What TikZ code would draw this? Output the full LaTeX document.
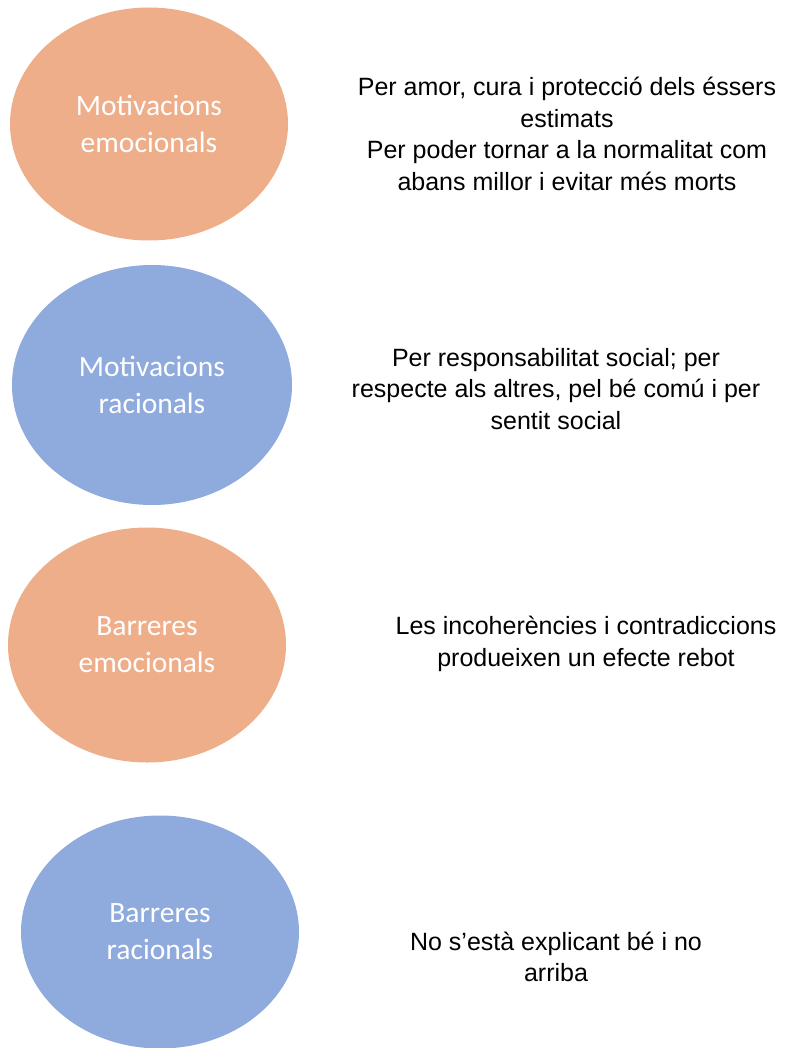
\documentclass[tikz,border=0pt]{standalone}
\usepackage{fontspec}
\setmainfont{Liberation Sans}
\newfontfamily\calibrifont{Carlito}
\usetikzlibrary{shapes.geometric}

\definecolor{emocolor}{HTML}{EEAE8A}
\definecolor{raccolor}{HTML}{8FAADC}

\begin{document}
\begin{tikzpicture}[x=1pt, y=-1pt,
    bubble/.style = {ellipse, inner sep=0pt, minimum width=278pt, minimum height=233pt,
      text=white, align=center, font=\calibrifont\fontsize{29.5}{37}\selectfont},
    emo/.style = {bubble, fill=emocolor},
    rac/.style = {bubble, fill=raccolor},
    note/.style = {align=center, font=\fontsize{25}{31.5}\selectfont}]
    \useasboundingbox (0,0) rectangle (784,1048);
    % ellipses on the left
    \node [emo] (motemo) at (149,124) {Motivacions\\emocionals};
    \node [rac, minimum width=280pt, minimum height=240pt] (motrac) at (152,385) {Motivacions\\racionals};
    \node [emo, minimum height=235pt] (baremo) at (147,645) {Barreres\\emocionals};
    \node [rac] (barrac) at (160,932) {Barreres\\racionals};
    % texts on the right
    \node [note] (txtmotemo) at (567,134) {Per amor, cura i protecció dels éssers\\estimats\\Per poder tornar a la normalitat com\\abans millor i evitar més morts};
    \node [note] (txtmotrac) at (556,389) {Per responsabilitat social; per\\respecte als altres, pel bé comú i per\\sentit social};
    \node [note] (txtbaremo) at (586,644) {Les incoherències i contradiccions\\produeixen un efecte rebot};
    \node [note] (txtbarrac) at (556,957) {No s’està explicant bé i no\\arriba};
\end{tikzpicture}
\end{document}
